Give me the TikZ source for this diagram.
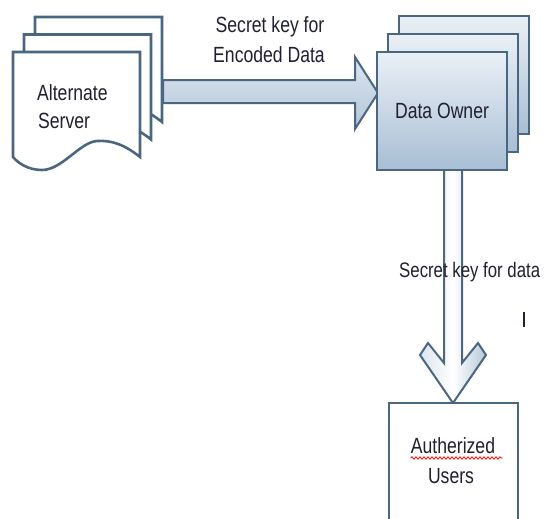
\documentclass[tikz,border=0pt]{standalone}
\usepackage{fontspec}
\setmainfont{Liberation Sans}[FakeStretch=0.8]
\usetikzlibrary{decorations.pathmorphing}
\definecolor{edge}{HTML}{4A6680}
\definecolor{ink}{HTML}{202030}
\definecolor{boxtop}{HTML}{EAF0F6}
\definecolor{boxbot}{HTML}{A8BED4}
\definecolor{arrtop}{HTML}{DCE6EF}
\definecolor{arrbot}{HTML}{B3C6D9}
\definecolor{headl}{HTML}{DCE5EE}
\definecolor{headr}{HTML}{B6C8D9}
\begin{document}
\begin{tikzpicture}[x=1pt,y=-1pt,
  sheet/.style={draw=edge,line width=2.6pt,fill=white,line join=miter},
  panel/.style={draw=edge,line width=2.6pt,top color=boxtop,bottom color=boxbot},
  blockarrow/.style={draw=edge,line width=2pt,line join=miter},
  lbl/.style={text=ink,inner sep=0pt,font=\fontsize{22}{30}\selectfont}]
\useasboundingbox (0,0) rectangle (546,519);

% stacked document sheets with a wavy lower edge
\foreach \dx/\dy in {22/-35,11/-17.5,0/0}{
  \begin{scope}[shift={(\dx,\dy)}]
    \draw[sheet] (13,52) -- (140,52) -- (140,157)
      .. controls (125,145) and (112,140) .. (97,141)
      .. controls (80,142) and (62,170) .. (42,170)
      .. controls (28,170) and (18,163) .. (13,157) -- cycle;
  \end{scope}}
\node[lbl,anchor=base west] (altA) at (37,100) {Alternate};
\node[lbl,anchor=base west] (altB) at (38,128) {Server};

% block arrow towards the owner
\draw[blockarrow,top color=arrtop,bottom color=arrbot]
  (163,80) -- (355,80) -- (355,57) -- (378,93) -- (355,129)
  -- (355,103) -- (163,103) -- cycle;
\node[lbl,anchor=base] (keyA) at (270,33) {Secret key for};
\node[lbl,anchor=base] (keyB) at (269,63) {Encoded Data};

% stacked owner panels
\foreach \dx/\dy in {22/-36,11/-18,0/0}{
  \begin{scope}[shift={(\dx,\dy)}]
    \draw[panel] (377,52) rectangle (507,170);
  \end{scope}}
\node[lbl,anchor=base] (owner) at (442,118) {Data Owner};

% downward block arrow with swept head
\draw[blockarrow,left color=headl,right color=headr,middle color=white]
  (444,171) -- (444,363) -- (428,343) -- (420,355) -- (453,403)
  -- (486,355) -- (478,343) -- (462,363) -- (462,171);
\node[lbl,anchor=base west,font=\fontsize{21}{28}\selectfont] (keyC) at (399,277) {Secret key for data};
\coordinate (barT) at (524,312);
\coordinate (barB) at (524,327);
\draw[ink,line width=2pt] (barT) -- (barB);

% users box, running past the lower border
\draw[draw=edge,line width=2.6pt,fill=white]
  (389,525) -- (389,403) -- (518,403) -- (518,525);
\node[lbl,anchor=base] (usrA) at (453,453) {Autherized};
\node[lbl,anchor=base] (usrB) at (451,483) {Users};
\draw[red,line width=0.8pt,decorate,
  decoration={snake,segment length=4pt,amplitude=1.2pt}]
  (usrA.base west) ++(0,5) -- ++(92,0);
\end{tikzpicture}
\end{document}
